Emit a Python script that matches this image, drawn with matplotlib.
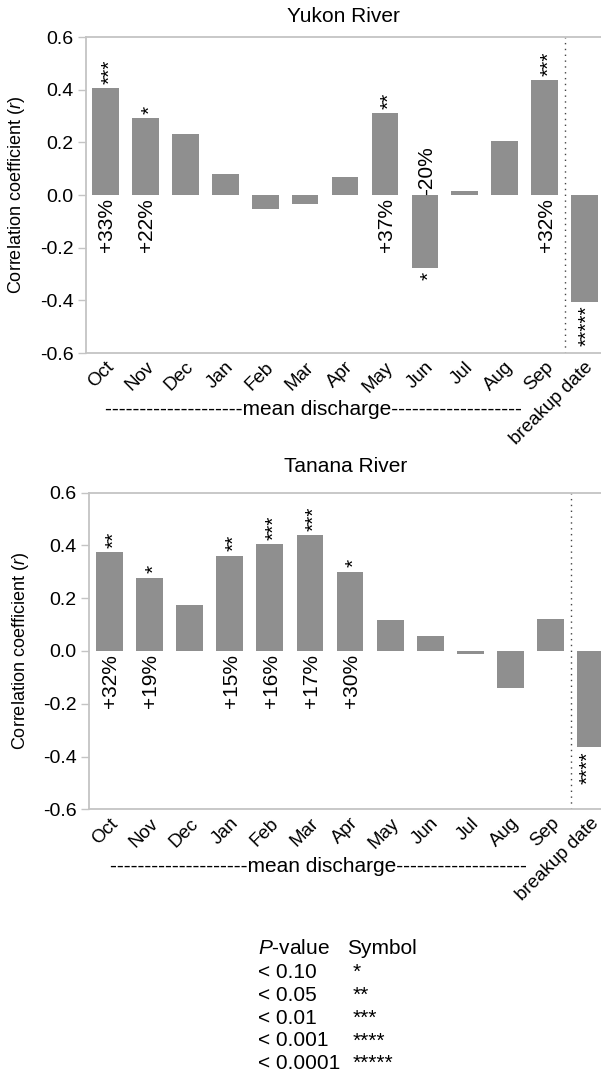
import matplotlib
matplotlib.use('Agg')
import matplotlib.pyplot as plt

plt.rcParams['font.family'] = ['Liberation Sans', 'DejaVu Sans']
plt.rcParams['axes.unicode_minus'] = False
plt.rcParams['mathtext.fontset'] = 'custom'
plt.rcParams['mathtext.rm'] = 'Liberation Sans'
plt.rcParams['mathtext.it'] = 'Liberation Sans:italic'

# data
months = ['Oct', 'Nov', 'Dec', 'Jan', 'Feb', 'Mar', 'Apr', 'May', 'Jun', 'Jul', 'Aug', 'Sep']
yukon_r = [0.406, 0.292, 0.232, 0.080, -0.053, -0.034, 0.068, 0.311, -0.277, 0.015, 0.205, 0.437]
yukon_breakup = -0.405
yukon_pct = ['+33%', '+22%', '', '', '', '', '', '+37%', '-20%', '', '', '+32%']
yukon_stars = ['***', '*', '', '', '', '', '', '**', '*', '', '', '***']
yukon_breakup_stars = '*****'

tanana_r = [0.374, 0.278, 0.175, 0.362, 0.404, 0.439, 0.301, 0.118, 0.057, -0.010, -0.141, 0.122]
tanana_breakup = -0.365
tanana_pct = ['+32%', '+19%', '', '+15%', '+16%', '+17%', '+30%', '', '', '', '', '']
tanana_stars = ['**', '*', '', '**', '***', '***', '*', '', '', '', '', '']
tanana_breakup_stars = '****'

p_values = ['< 0.10', '< 0.05', '< 0.01', '< 0.001', '< 0.0001']
symbols = ['*', '**', '***', '****', '*****']

BAR = '#8f8f8f'
SPINE = '#c4c4c4'
FS = 15        # bar annotations, legend, mean discharge
FS_TICK = 14
FS_MONTH = 13.5


def draw_panel(ax, title, r, breakup, pct, stars, breakup_stars, xlim, title_pad, edge_dx):
    vals = list(r) + [breakup]
    labels = months + ['breakup date']
    star_list = list(stars) + [breakup_stars]
    pct_list = list(pct) + ['']
    x = list(range(len(vals)))
    ax.bar(x, vals, width=0.67, color=BAR, zorder=2)

    for i, v in enumerate(vals):
        if star_list[i]:
            # asterisks sit high in the em box, nudge right so they centre on the bar
            sign = 1 if v >= 0 else -1
            dx = edge_dx if i == len(vals) - 1 else 3
            ax.annotate(star_list[i], (i, v), xytext=(dx, 3 * sign), textcoords='offset points',
                        rotation=90, ha='center', va='bottom' if sign > 0 else 'top',
                        fontsize=FS)
        if pct_list[i]:
            if v >= 0:
                ax.annotate(pct_list[i], (i, 0), xytext=(1, -2), textcoords='offset points',
                            rotation=90, ha='center', va='top', fontsize=FS)
            else:
                ax.annotate(pct_list[i], (i, 0), xytext=(1, 0), textcoords='offset points',
                            rotation=90, ha='center', va='bottom', fontsize=FS)

    ax.axvline(len(r) - 0.5, color='#444444', linewidth=1.0, linestyle=(0, (1, 3.2)))

    ax.set_xlim(*xlim)
    ax.set_ylim(-0.6, 0.6)
    ticks = [-0.6, -0.4, -0.2, 0.0, 0.2, 0.4, 0.6]
    ax.set_yticks(ticks)
    ax.set_yticklabels(['%.1f' % t for t in ticks], fontsize=FS_TICK)
    ax.set_xticks(x)
    ax.set_xticklabels(labels, rotation=45, ha='right', va='top', rotation_mode='anchor',
                       fontsize=FS_MONTH)
    ax.tick_params(axis='x', length=0, pad=4)
    ax.tick_params(axis='y', length=6, width=1, color=SPINE, pad=3)

    for side in ['left', 'top', 'bottom']:
        ax.spines[side].set_color(SPINE)
        ax.spines[side].set_linewidth(1.3)
    ax.spines['right'].set_visible(False)

    ax.set_ylabel('Correlation coefficient ($\\it{r}$)', fontsize=13, labelpad=9)
    ax.set_title(title, fontsize=15, pad=title_pad)

    ax.text(5.2, -0.18, '-' * 20 + 'mean discharge' + '-' * 19, fontsize=FS,
            ha='center', va='center', transform=ax.get_xaxis_transform())


fig = plt.figure(figsize=(6.01, 10.77), dpi=100)
ax1 = fig.add_axes([0.1431, 0.6722, 0.8569, 0.2934])
ax2 = fig.add_axes([0.1486, 0.2486, 0.8514, 0.2939])

draw_panel(ax1, 'Yukon River', yukon_r, yukon_breakup, yukon_pct, yukon_stars,
           yukon_breakup_stars, (-0.486, 12.41), 11, 2)
draw_panel(ax2, 'Tanana River', tanana_r, tanana_breakup, tanana_pct, tanana_stars,
           tanana_breakup_stars, (-0.503, 12.26), 15, -1.6)

# significance key
fig.text(258 / 601, 1 - 948 / 1077, '$\\it{P}$-value', fontsize=FS, va='center', ha='left')
fig.text(347 / 601, 1 - 948 / 1077, 'Symbol', fontsize=FS, va='center', ha='left')
for k, (p, s) in enumerate(zip(p_values, symbols)):
    yy = 1 - (972.5 + 22.8 * k) / 1077
    fig.text(258 / 601, yy, p, fontsize=FS, va='center', ha='left')
    fig.text(353 / 601, yy, s, fontsize=FS, va='center', ha='left')

fig.savefig('out.png', dpi=100)
